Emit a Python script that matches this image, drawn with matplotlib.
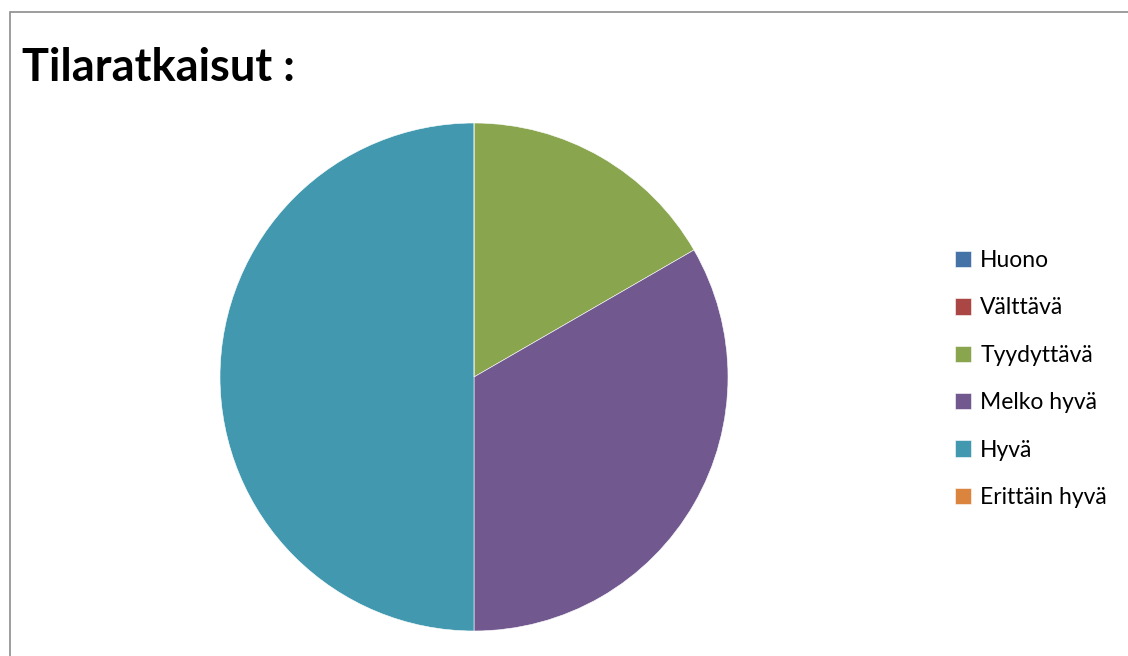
import matplotlib.pyplot as plt
import matplotlib.patches as mpatches

categories = ["Huono", "Välttävä", "Tyydyttävä", "Melko hyvä", "Hyvä", "Erittäin hyvä"]
answers = [0, 0, 1, 2, 3, 0]
colors = ["#4572A7", "#AA4643", "#89A54E", "#71588F", "#4198AF", "#DB843D"]
title = "Tilaratkaisut :"

plt.rcParams['font.family'] = ['Lato', 'DejaVu Sans']

W, H = 1128, 656
fig = plt.figure(figsize=(W / 100, H / 100), dpi=100)

# chart frame (open to the right and bottom edges)
fig.patches.append(mpatches.Rectangle((10 / W, -0.05), 1.2, 1 - 12 / H + 0.05,
                                      transform=fig.transFigure, fill=False,
                                      edgecolor="#8c8c8c", linewidth=1.2))

fig.text(22 / W, 1 - 68 / H, title, fontsize=32.5, fontweight='bold',
         va='center', ha='left')

cx, cy, r = 474, 377, 254
ax = fig.add_axes([(cx - r) / W, 1 - (cy + r) / H, 2 * r / W, 2 * r / H])
wedges, _ = ax.pie(answers, colors=colors, startangle=90, counterclock=False,
                   wedgeprops=dict(edgecolor="white", linewidth=0.4))
ax.set_xlim(-1, 1)
ax.set_ylim(-1, 1)
ax.set_aspect('auto')

fig.legend(wedges, categories, loc='center left',
           bbox_to_anchor=(934 / W, 1 - 379 / H), frameon=False,
           fontsize=16.5, handlelength=0.72, handleheight=0.72,
           handletextpad=0.4, labelspacing=1.15)

fig.savefig("out.png", dpi=100)
